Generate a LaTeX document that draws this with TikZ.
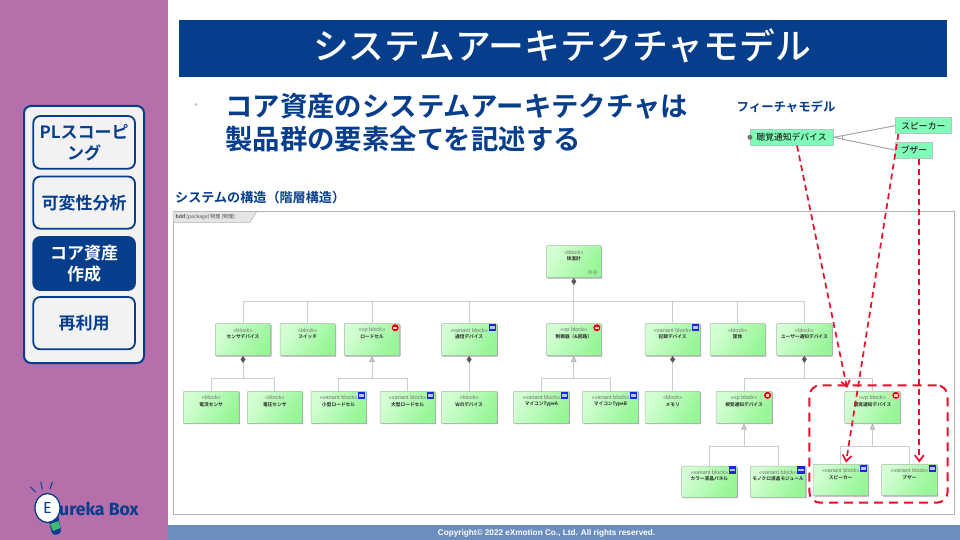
\documentclass[tikz,border=0pt]{standalone}
\usepackage{fontspec}
\setmainfont[BoldFont={Noto Sans CJK JP Medium}]{Noto Sans CJK JP}
\newfontfamily\heavyfont{Noto Sans CJK JP Bold}
\newfontfamily\latinfont{Liberation Sans}
\newfontfamily\logofont{Fira Sans}
\usetikzlibrary{arrows.meta,fit,shadows,shapes.geometric,calc}
\definecolor{navy}{HTML}{063E8C}
\definecolor{purplebg}{HTML}{B56FAB}
\definecolor{footbar}{HTML}{6C8EBF}
\definecolor{panel}{HTML}{F2F2F2}
\definecolor{blockA}{HTML}{D4FFD4}
\definecolor{blockB}{HTML}{96F596}
\definecolor{blockedge}{HTML}{A8B8A8}
\definecolor{feat}{HTML}{80FFB8}
\definecolor{featedge}{HTML}{B4C4C4}
\definecolor{linegrey}{HTML}{CCCCCC}
\definecolor{redline}{HTML}{E8102A}
\definecolor{badgeblue}{HTML}{1A28D8}
\definecolor{genfill}{HTML}{F5D8B4}
\tikzset{
  sidebtn/.style={draw=navy,line width=1.8pt,rounded corners=7pt,fill=panel,inner sep=0pt},
  sidetxt/.style={text=navy,font=\fontsize{17}{21}\selectfont\heavyfont,align=center},
  blockbox/.style={draw=blockedge,line width=.5pt,left color=blockA,right color=blockB,shading angle=60,
    rounded corners=.8pt,inner sep=0pt,copy shadow={shadow xshift=.9pt,shadow yshift=-.9pt,draw=none,fill=black!35}},
  stereotxt/.style={text=black!55,font=\fontsize{5.6}{6}\selectfont\latinfont,inner sep=0pt},
  nametxt/.style={text=black!85,font=\fontsize{4.7}{5}\selectfont\heavyfont,inner sep=0pt},
  conn/.style={draw=linegrey,line width=1pt},
  comp/.style={conn,{Diamond[length=7pt,width=5pt,color=black!65,fill=black!65]}-},
  gener/.style={conn,{Triangle[length=6pt,width=5.5pt,color=black!30,fill=genfill]}-},
  featbox/.style={draw=featedge,line width=.7pt,fill=feat,inner sep=0pt},
  feattxt/.style={inner sep=0pt,font=\fontsize{8.8}{9}\selectfont\bfseries,text=black!85},
  featline/.style={draw=black!35,line width=1pt},
  tracearrow/.style={draw=redline,line width=1.7pt,dash pattern=on 6pt off 4pt,-{Straight Barb[length=6pt,width=9pt]}},
}
% name x1 y1 x2 y2 stereotype label
\newcommand{\blk}[7]{%
  \node[blockbox,fit={(#2,#3)(#4,#5)}] (#1) {};
  \node[stereotxt] (#1s) at ($(#1.north)+(0,-6.6pt)$) {«#6»};
  \node[nametxt] (#1n) at ($(#1.north)+(0,-13.4pt)$) {#7};
}
\newcommand{\vpbadge}[1]{%
  \node[circle,fill=red!85!black,draw=white,line width=.3pt,minimum size=7.8pt,inner sep=0pt] (#1b) at ($(#1.north east)+(-4.7pt,-4.3pt)$) {};
  \fill[white!80!red] ($(#1b)+(-1.8pt,-1.2pt)$) rectangle ($(#1b)+(1.8pt,1.2pt)$);
}
\newcommand{\varbadge}[1]{%
  \node[rectangle,fill=badgeblue,minimum size=7.4pt,inner sep=0pt] (#1b) at ($(#1.north east)+(-5pt,-4.2pt)$) {};
  \fill[white!75!blue] ($(#1b)+(-2.6pt,-1.4pt)$) rectangle ($(#1b)+(2.6pt,1.4pt)$);
}
\begin{document}
\begin{tikzpicture}[x=1pt,y=-1pt]
\useasboundingbox (0,0) rectangle (960,540);
\fill[white] (0,0) rectangle (960,540);
\fill[purplebg] (0,0) rectangle (168,540);
\fill[footbar] (168,525) rectangle (960,540);
\node[text=white,font=\fontsize{8.2}{9}\selectfont\latinfont\bfseries,inner sep=0pt] (copyright) at (546.5,533) {Copyright© 2022 eXmotion Co., Ltd. All rights reserved.};

% sidebar
\node[draw=navy,line width=2pt,fill=panel,rounded corners=7pt,fit={(24,106)(144,363)},inner sep=0pt] (sidepanel) {};
\node[sidebtn,fit={(33.3,116)(135,168.7)}] (b1) {};
\node[sidetxt] (b1t) at (b1.center) {PLスコーピ\\ング};
\node[sidebtn,fit={(33.3,176.5)(135,228.7)}] (b2) {};
\node[sidetxt] (b2t) at (b2.center) {可変性分析};
\node[sidebtn,fill=navy,fit={(33.3,237)(135,290)}] (b3) {};
\node[sidetxt,text=white] (b3t) at (b3.center) {コア資産\\作成};
\node[sidebtn,fit={(33.3,297)(135,349.3)}] (b4) {};
\node[sidetxt] (b4t) at (b4.center) {再利用};

% logo
\draw[navy,line width=1pt,line cap=round] (30.5,487) -- (35.5,492) (40.8,482) -- (42.3,489) (52.3,482) -- (50,489);
\fill[navy] (48,519) -- (58,514) -- (61,531) .. controls (60,535) and (54,536) .. (52,533) -- cycle;
\fill[footbar!60!green] (50,524) -- (59,521) -- (60,528) -- (53,531) -- cycle;
\node[ellipse,draw=navy,fill=white,line width=1.3pt,minimum width=25pt,minimum height=29pt,inner sep=0pt] (bulb) at (47.5,508) {};
\node[text=navy,font=\fontsize{16}{16}\selectfont\logofont,inner sep=0pt] (logoE) at (bulb.center) {E};
\node[text=navy,font=\fontsize{17.6}{18}\selectfont\logofont\bfseries,inner sep=0pt,anchor=west] (logoT) at (59,509) {ureka Box};

% title
\node[fill=navy,fit={(179,20.5)(947,77)},inner sep=0pt] (titlebar) {};
\node[text=white,font=\fontsize{35.8}{36}\selectfont\bfseries,inner sep=0pt] (titlet) at (562,46) {システムアーキテクチャモデル};
\node[fill=black!25,circle,minimum size=3pt,inner sep=0pt] (bullet) at (196,104.5) {};
\node[text=navy,font=\fontsize{27.4}{33}\selectfont\heavyfont,align=left,inner sep=0pt,anchor=north west] (bodyt) at (225,93) {コア資産のシステムアーキテクチャは\\製品群の要素全てを記述する};
\node[text=navy,font=\fontsize{13.1}{14}\selectfont\heavyfont,inner sep=0pt,anchor=west] (structt) at (175,198) {システムの構造（階層構造）};
\node[text=navy,font=\fontsize{12.4}{13}\selectfont\heavyfont,inner sep=0pt,anchor=west] (featt) at (736.5,107) {フィーチャモデル};

% frame
\node[draw=black!30,line width=1pt,fit={(173,211.7)(954.3,514)},inner sep=0pt] (frame) {};
\fill[black!10,draw=black!30,line width=.5pt] (173,211.7) -- (256.7,211.7) -- (250,222.3) -- (173,222.3) -- cycle;
\node[text=black!70,font=\fontsize{5}{5}\selectfont,inner sep=0pt,anchor=west] (framet) at (175.5,217) {{\heavyfont bdd} [package] 物理 [物理]};

% buses
\coordinate (bus1) at (0,301);
\coordinate (bus2) at (0,378.3);
\coordinate (bus3) at (0,446);

% blocks
\blk{body}{546.3}{245.7}{601.3}{277.7}{block}{体温計}
\blk{sens}{215.3}{323.7}{270.7}{355.7}{block}{センサデバイス}
\blk{swit}{280}{323.7}{335.3}{355.7}{block}{スイッチ}
\blk{load}{344.3}{323.7}{399.7}{355.7}{vp block}{ロードセル}
\blk{comm}{441.3}{323.7}{497}{355.7}{variant block}{通信デバイス}
\blk{ctrl}{546.3}{323.7}{601.3}{355.7}{vp block}{制御器（\&回路）}
\blk{reco}{645}{323.7}{700.3}{355.7}{variant block}{記録デバイス}
\blk{case}{710}{323.7}{765.3}{355.7}{block}{筐体}
\blk{user}{776.7}{323.7}{832}{355.7}{block}{ユーザー通知デバイス}
\blk{curr}{183.3}{391.3}{239}{423.3}{block}{電流センサ}
\blk{volt}{247.3}{391.3}{302.3}{423.3}{block}{電圧センサ}
\blk{lsma}{311}{391.3}{366.3}{423.3}{variant block}{小型ロードセル}
\blk{lbig}{380}{391.3}{435.3}{423.3}{variant block}{大型ロードセル}
\blk{wifi}{441.3}{391.3}{497}{423.3}{block}{Wifiデバイス}
\blk{mcua}{513.7}{391.3}{569}{423.3}{variant block}{マイコンTypeA}
\blk{mcub}{582.7}{391.3}{638.3}{423.3}{variant block}{マイコンTypeB}
\blk{memo}{645}{391.3}{700.3}{423.3}{block}{メモリ}
\blk{visu}{716}{391.3}{772}{423.3}{vp block}{視覚通知デバイス}
\blk{audi}{844.7}{391.3}{900.3}{423.3}{vp block}{聴覚通知デバイス}
\blk{colo}{681.7}{466}{737}{497.3}{variant block}{カラー液晶パネル}
\blk{mono}{750.3}{466}{805.7}{497.3}{variant block}{モノクロ液晶モジュール}
\blk{spkr}{813}{464.3}{868.3}{495.7}{variant block}{スピーカー}
\blk{buzz}{881.7}{464.3}{937.3}{495.7}{variant block}{ブザー}

\vpbadge{load}\vpbadge{ctrl}\vpbadge{visu}\vpbadge{audi}
\varbadge{comm}\varbadge{reco}\varbadge{lsma}\varbadge{lbig}\varbadge{mcua}\varbadge{mcub}
\varbadge{colo}\varbadge{mono}\varbadge{spkr}\varbadge{buzz}

% sub-diagram mark
\draw[black!50,line width=.4pt] ($(body.south east)+(-11.5pt,6pt)$) coordinate (infl) circle (1.8pt) ($(infl)+(1.8pt,0)$) -- ($(infl)+(3.4pt,0)$) ($(infl)+(5.2pt,0)$) circle (1.8pt);

% connectors
\foreach \c in {sens,swit,load,comm,ctrl,reco,case,user}
  \draw[conn] (body.south |- bus1) -| (\c.north);
\draw[comp] (body.south) -- (body.south |- bus1);
\foreach \c in {curr,volt}
  \draw[conn] (sens.south |- bus2) -| (\c.north);
\draw[comp] (sens.south) -- (sens.south |- bus2);
\foreach \c in {lsma,lbig}
  \draw[conn] (load.south |- bus2) -| (\c.north);
\draw[gener] (load.south) -- (load.south |- bus2);
\draw[comp] (comm.south) -- (wifi.north);
\foreach \c in {mcua,mcub}
  \draw[conn] (ctrl.south |- bus2) -| (\c.north);
\draw[gener] (ctrl.south) -- (ctrl.south |- bus2);
\draw[comp] (reco.south) -- (memo.north);
\foreach \c in {visu,audi}
  \draw[conn] (user.south |- bus2) -| (\c.north);
\draw[comp] (user.south) -- (user.south |- bus2);
\foreach \c in {colo,mono}
  \draw[conn] (visu.south |- bus3) -| (\c.north);
\draw[gener] (visu.south) -- (visu.south |- bus3);
\foreach \c in {spkr,buzz}
  \draw[conn] (audi.south |- bus3) -| (\c.north);
\draw[gener] (audi.south) -- (audi.south |- bus3);

% feature model
\node[featbox,fit={(750.3,129.3)(833.3,145.3)}] (fa) {};
\node[feattxt] (fat) at (791.5,137) {聴覚通知デバイス};
\node[featbox,fit={(895.7,117.7)(951,133.7)}] (fs) {};
\node[feattxt] (fst) at (fs.center) {スピーカー};
\node[featbox,fit={(895.7,142)(932.3,158.3)}] (fb) {};
\node[feattxt] (fbt) at (fb.center) {ブザー};
\node[fill=black!55,circle,minimum size=5pt,inner sep=0pt] (fdot) at (fa.west) {};
\draw[featline] (fa.east) -- (fs.west);
\draw[featline] (fa.east) -- (fb.west);
\draw[black!35,line width=.5pt] ($(fa.east)+(9pt,-2.5pt)$) -- ($(fa.east)+(9pt,2.5pt)$);

% trace arrows and dashed region
\draw[tracearrow] ([xshift=5.2pt]fa.south) -- ([xshift=-25.5pt,yshift=3pt]audi.north);
\draw[tracearrow] ([xshift=-25pt]fs.south) -- ([xshift=5.3pt,yshift=1.5pt]spkr.north);
\draw[tracearrow] ([xshift=5.3pt]fb.south) -- ([xshift=9.8pt,yshift=1.5pt]buzz.north);
\node[draw=redline,line width=2pt,dash pattern=on 9pt off 6pt,rounded corners=11pt,fit={(809.3,385.3)(947.7,502.7)},inner sep=0pt] (region) {};
\end{tikzpicture}
\end{document}
